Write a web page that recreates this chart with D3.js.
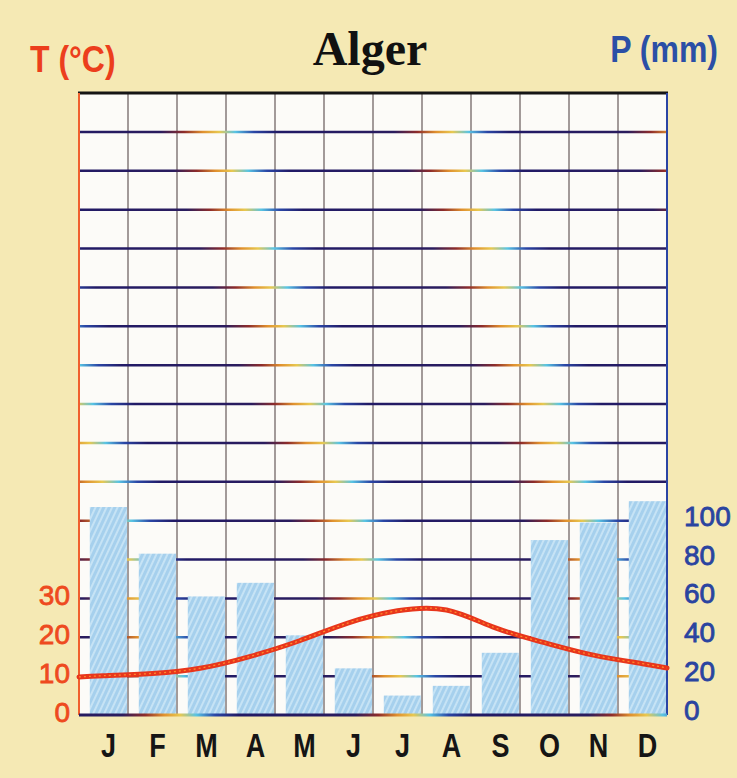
<!DOCTYPE html>
<html>
<head>
<meta charset="utf-8">
<script src="https://cdn.jsdelivr.net/npm/d3@7"></script>
<style>
  html, body { margin: 0; padding: 0; background: #f5e9b4; }
  svg { display: block; }
</style>
</head>
<body>
<script>
// climate diagram data
var monthLabels = ["J", "F", "M", "A", "M", "J", "J", "A", "S", "O", "N", "D"];
var precip = [107, 83, 61, 68, 41, 24, 10, 15, 32, 90, 99, 110];        // mm
var temp = [10.1, 10.7, 12.1, 15.1, 19.1, 23.7, 26.8, 27.0, 22.4, 18.6, 15.4, 13.2]; // °C
var tempTicks = [0, 10, 20, 30];
var precipTicks = [0, 20, 40, 60, 80, 100];

var width = 737,
    height = 778,
    plotLeft = 79, plotRight = 667, plotTop = 93, plotBottom = 715;

var svg = d3.select("body").append("svg")
    .attr("width", width)
    .attr("height", height);

var defs = svg.append("defs");

// scanned-looking rainbow fringes on the grid lines
var grad = defs.append("linearGradient")
    .attr("id", "gridGrad")
    .attr("gradientUnits", "userSpaceOnUse")
    .attr("x1", 0).attr("y1", 0)
    .attr("x2", 210).attr("y2", -70)
    .attr("spreadMethod", "repeat");
[["0", "#211a66"], ["0.5", "#2a1c5e"], ["0.6", "#8e2c2a"], ["0.68", "#e0902e"],
 ["0.75", "#e8c850"], ["0.82", "#58c4e4"], ["0.9", "#2a46a6"], ["1", "#211a66"]].forEach(function(s) {
  grad.append("stop").attr("offset", s[0]).attr("stop-color", s[1]);
});

// hatched light blue for the rain bars
var pat = defs.append("pattern")
    .attr("id", "hatch")
    .attr("patternUnits", "userSpaceOnUse")
    .attr("width", 5).attr("height", 5)
    .attr("patternTransform", "rotate(25)");
pat.append("rect").attr("width", 5).attr("height", 5).attr("fill", "#a6d0ed");
pat.append("rect").attr("width", 2).attr("height", 5).attr("fill", "#c6e3f5");

var x = d3.scaleBand()
    .domain(d3.range(12))
    .range([plotLeft, plotRight]);

var yP = d3.scaleLinear()
    .domain([0, 320])
    .range([plotBottom, plotTop]);

var yT = d3.scaleLinear()
    .domain([0, 160])
    .range([plotBottom, plotTop]);

var bw = x.bandwidth();

// plot area
svg.append("rect")
    .attr("x", plotLeft).attr("y", plotTop)
    .attr("width", plotRight - plotLeft).attr("height", plotBottom - plotTop)
    .attr("fill", "#fcfbf8");

// vertical month lines
svg.append("g").selectAll("line")
    .data(d3.range(1, 12))
  .enter().append("line")
    .attr("x1", function(d) { return x(d); })
    .attr("x2", function(d) { return x(d); })
    .attr("y1", plotTop).attr("y2", plotBottom)
    .attr("stroke", "#857a7a")
    .attr("stroke-width", 1.5);

// horizontal lines every 20 mm
svg.append("g").selectAll("line")
    .data(d3.range(20, 320, 20))
  .enter().append("line")
    .attr("x1", plotLeft).attr("x2", plotRight)
    .attr("y1", function(d) { return yP(d); })
    .attr("y2", function(d) { return yP(d); })
    .attr("stroke", "url(#gridGrad)")
    .attr("stroke-width", 2.5);

// rain bars
svg.append("g").selectAll("rect")
    .data(precip)
  .enter().append("rect")
    .attr("x", function(d, i) { return x(i) + bw * 0.22; })
    .attr("width", bw * 0.76)
    .attr("y", function(d) { return yP(d); })
    .attr("height", function(d) { return yP(0) - yP(d); })
    .attr("fill", "url(#hatch)");

// frame
svg.append("line")
    .attr("x1", plotLeft - 1).attr("x2", plotRight + 1)
    .attr("y1", plotTop).attr("y2", plotTop)
    .attr("stroke", "#151515").attr("stroke-width", 3);
svg.append("line")
    .attr("x1", plotLeft).attr("x2", plotLeft)
    .attr("y1", plotTop).attr("y2", plotBottom)
    .attr("stroke", "#f0602e").attr("stroke-width", 2);
svg.append("line")
    .attr("x1", plotRight).attr("x2", plotRight)
    .attr("y1", plotTop).attr("y2", plotBottom)
    .attr("stroke", "#2b44a4").attr("stroke-width", 2);
svg.append("line")
    .attr("x1", plotLeft).attr("x2", plotRight)
    .attr("y1", plotBottom).attr("y2", plotBottom)
    .attr("stroke", "url(#gridGrad)").attr("stroke-width", 3);

// temperature curve, carried out to the frame edges
var pts = temp.map(function(d, i) { return [x(i) + bw / 2, yT(d)]; });
pts.unshift([plotLeft, yT(temp[0] - (temp[1] - temp[0]) / 2)]);
pts.push([plotRight, yT(temp[11] - (temp[10] - temp[11]) / 2)]);

var line = d3.line().curve(d3.curveNatural);

svg.append("path")
    .attr("d", line(pts))
    .attr("fill", "none")
    .attr("stroke", "#e8361c")
    .attr("stroke-width", 5)
    .attr("stroke-linecap", "round");
svg.append("path")
    .attr("d", line(pts))
    .attr("fill", "none")
    .attr("stroke", "#ff8a2a")
    .attr("stroke-width", 1.3)
    .attr("stroke-dasharray", "2,3");

// axis numbers
svg.append("g").selectAll("text")
    .data(tempTicks)
  .enter().append("text")
    .attr("x", 70)
    .attr("y", function(d) { return yT(d) - 3; })
    .attr("dy", "0.36em")
    .attr("text-anchor", "end")
    .attr("font-family", "Liberation Sans, Arial, sans-serif")
    .attr("font-size", 28)
    .attr("fill", "#ee4a1e")
    .attr("stroke", "#ee4a1e").attr("stroke-width", 0.8)
    .text(function(d) { return d; });

svg.append("g").selectAll("text")
    .data(precipTicks)
  .enter().append("text")
    .attr("x", 684)
    .attr("y", function(d) { return yP(d) - 5; })
    .attr("dy", "0.36em")
    .attr("text-anchor", "start")
    .attr("font-family", "Liberation Sans, Arial, sans-serif")
    .attr("font-size", 28)
    .attr("fill", "#2a44a0")
    .attr("stroke", "#2a44a0").attr("stroke-width", 0.8)
    .text(function(d) { return d; });

// month letters
svg.append("g").selectAll("text")
    .data(monthLabels)
  .enter().append("text")
    .attr("transform", function(d, i) {
      return "translate(" + (x(i) + bw * 0.6) + ",757) scale(1,1.2)";
    })
    .attr("text-anchor", "middle")
    .attr("font-family", "Liberation Sans, Arial, sans-serif")
    .attr("font-weight", "bold")
    .attr("font-size", 27)
    .attr("fill", "#151515")
    .text(function(d) { return d; });

// titles
svg.append("text")
    .attr("transform", "translate(30,72) scale(1,1.14)")
    .attr("font-family", "Liberation Sans, Arial, sans-serif")
    .attr("font-weight", "bold")
    .attr("font-size", 32)
    .attr("fill", "#ec3e1c")
    .text("T (°C)");

svg.append("text")
    .attr("x", 370).attr("y", 65)
    .attr("text-anchor", "middle")
    .attr("font-family", "Liberation Serif, Times New Roman, serif")
    .attr("font-weight", "bold")
    .attr("font-size", 48)
    .attr("fill", "#111")
    .text("Alger");

svg.append("text")
    .attr("transform", "translate(718,62) scale(1,1.14)")
    .attr("text-anchor", "end")
    .attr("font-family", "Liberation Sans, Arial, sans-serif")
    .attr("font-weight", "bold")
    .attr("font-size", 32)
    .attr("fill", "#2b4fa6")
    .text("P (mm)");
</script>
</body>
</html>
